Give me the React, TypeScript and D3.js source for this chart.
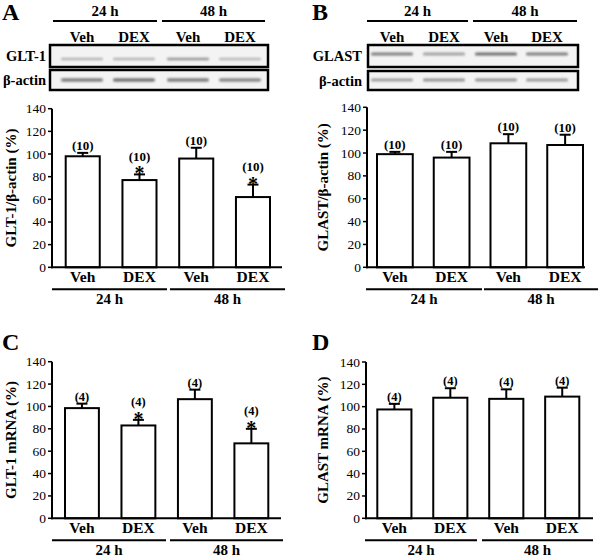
import React from "react";
import * as d3 from "d3";

// ---------- data ----------
const CATEGORIES = ["Veh", "DEX", "Veh", "DEX"];
const TIMES = ["24 h", "48 h"];
const Y_TICKS = [0, 20, 40, 60, 80, 100, 120, 140];

const GLT1_PROTEIN = [98, 77, 96, 62];
const GLT1_PROTEIN_SEM = [3, 5, 9.5, 11];
const GLAST_PROTEIN = [99, 96, 108.5, 107];
const GLAST_PROTEIN_SEM = [2, 5, 8, 9];
const GLT1_MRNA = [98.5, 83, 106.5, 67];
const GLT1_MRNA_SEM = [4, 5, 8.5, 13];
const GLAST_MRNA = [97.5, 108, 107, 109];
const GLAST_MRNA_SEM = [5, 8.5, 8.5, 8];

const N_PROTEIN = "(10)";
const N_MRNA = "(4)";
const SIG_GLT1 = [false, true, false, true];
const SIG_GLAST = [false, false, false, false];

// band intensities of the blot images (relative darkness per lane)
const GLT1_BAND = [0.3, 0.3, 0.45, 0.28];
const ACTIN_A_BAND = [0.55, 0.6, 0.55, 0.5];
const GLAST_BAND = [0.55, 0.38, 0.62, 0.55];
const ACTIN_B_BAND = [0.4, 0.45, 0.45, 0.42];

const FONT = "'Liberation Serif', 'Times New Roman', serif";

type PanelCfg = {
  letter: string;
  letterX: number;
  letterY: number;
  axisX: number;
  axisEnd: number;
  y0: number;
  yTop: number;
  barStart: number;
  barEnd: number;
  pad: number;
  title: string;
  titleX: number;
  groups: [number, number][];
  values: number[];
  sems: number[];
  n: string;
  nSize: number;
  sig: boolean[];
};

function BarPanel({ c }: { c: PanelCfg }) {
  const x = d3.scaleBand<number>().domain(d3.range(CATEGORIES.length)).range([c.barStart, c.barEnd]).paddingInner(c.pad).paddingOuter(0);
  const y = d3.scaleLinear().domain([0, 140]).range([c.y0, c.yTop]);
  const bw = x.bandwidth();
  return (
    <g fontFamily={FONT}>
      <text x={c.letterX} y={c.letterY} fontSize={24} fontWeight="bold">{c.letter}</text>
      {/* y axis */}
      <line x1={c.axisX} x2={c.axisX} y1={y(0) + 1} y2={y(140)} stroke="#000" strokeWidth={2} />
      {Y_TICKS.map((t) => (
        <g key={t}>
          <line x1={c.axisX - 4} x2={c.axisX} y1={y(t)} y2={y(t)} stroke="#000" strokeWidth={1.5} />
          <text x={c.axisX - 6} y={y(t) + 4.5} fontSize={13.5} textAnchor="end">{t}</text>
        </g>
      ))}
      <text
        transform={`translate(${c.titleX},${(y(0) + y(140)) / 2}) rotate(-90)`}
        fontSize={15}
        fontWeight="bold"
        textAnchor="middle"
      >
        {c.title}
      </text>
      {/* bars */}
      {c.values.map((v, i) => {
        const cx = (x(i) as number) + bw / 2;
        const top = y(v + c.sems[i]);
        return (
          <g key={i}>
            <line x1={cx} x2={cx} y1={y(v)} y2={top} stroke="#000" strokeWidth={2} />
            <line x1={cx - 5.5} x2={cx + 5.5} y1={top} y2={top} stroke="#000" strokeWidth={2} />
            <rect x={x(i)} y={y(v)} width={bw} height={y(0) - y(v)} fill="#fff" stroke="#000" strokeWidth={2} />
            {c.sig[i] && (
              <text x={cx} y={top + 6} fontSize={20} fontWeight="bold" textAnchor="middle">*</text>
            )}
            <text x={cx} y={c.sig[i] ? top - 13.5 : top - 3} fontSize={c.nSize} fontWeight="bold" textAnchor="middle">
              {c.n}
            </text>
          </g>
        );
      })}
      {/* x axis */}
      <line x1={c.axisX - 1} x2={c.axisEnd} y1={y(0)} y2={y(0)} stroke="#000" strokeWidth={2} />
      {CATEGORIES.map((cat, i) => (
        <text key={i} x={(x(i) as number) + bw / 2} y={y(0) + 15} fontSize={15.5} fontWeight="bold" textAnchor="middle">
          {cat}
        </text>
      ))}
      {c.groups.map(([a, b], i) => (
        <g key={i}>
          <line x1={a} x2={b} y1={y(0) + 22} y2={y(0) + 22} stroke="#000" strokeWidth={2} />
          <text x={(a + b) / 2} y={y(0) + 36.5} fontSize={15} fontWeight="bold" textAnchor="middle">
            {TIMES[i]}
          </text>
        </g>
      ))}
    </g>
  );
}

type BlotCfg = {
  groups: [number, number][];
  lanes: number[];
  boxX: [number, number];
  labelX: number;
  rows: { y0: number; y1: number; bandY: number; bandH: number; bands: number[]; label: string }[];
  laneW: number;
};

function Blot({ b }: { b: BlotCfg }) {
  return (
    <g fontFamily={FONT} fontWeight="bold">
      {b.groups.map(([a, c], i) => (
        <g key={i}>
          <text x={(a + c) / 2} y={16} fontSize={15} textAnchor="middle">{TIMES[i]}</text>
          <line x1={a} x2={c} y1={21} y2={21} stroke="#000" strokeWidth={2} />
        </g>
      ))}
      {b.lanes.map((lx, i) => (
        <text key={i} x={lx} y={42} fontSize={15} textAnchor="middle">{CATEGORIES[i]}</text>
      ))}
      {b.rows.map((r, ri) => (
        <g key={ri}>
          <text x={b.labelX} y={(r.y0 + r.y1) / 2 + 5} fontSize={14.5} textAnchor="end">{r.label}</text>
          <rect x={b.boxX[0]} y={r.y0} width={b.boxX[1] - b.boxX[0]} height={r.y1 - r.y0} fill="#f3f3f3" stroke="#000" strokeWidth={2.5} />
          {r.bands.map((v, i) => (
            <rect
              key={i}
              x={b.lanes[i] - b.laneW / 2}
              y={r.bandY - r.bandH / 2}
              width={b.laneW}
              height={r.bandH}
              rx={r.bandH / 2}
              fill="#222"
              opacity={v}
              filter="url(#blur)"
            />
          ))}
        </g>
      ))}
    </g>
  );
}

export default function App() {
  const panels: PanelCfg[] = [
    {
      letter: "A", letterX: 2, letterY: 20, axisX: 52, axisEnd: 282, y0: 267.3, yTop: 108.7,
      barStart: 65.7, barEnd: 270, pad: 0.4, title: "GLT-1/β-actin (%)", titleX: 16,
      groups: [[52, 167], [170, 285]], values: GLT1_PROTEIN, sems: GLT1_PROTEIN_SEM, n: N_PROTEIN, nSize: 13, sig: SIG_GLT1,
    },
    {
      letter: "B", letterX: 312, letterY: 20, axisX: 367, axisEnd: 585, y0: 267.3, yTop: 107.3,
      barStart: 377, barEnd: 583, pad: 0.37, title: "GLAST/β-actin (%)", titleX: 328,
      groups: [[366, 482], [484, 598]], values: GLAST_PROTEIN, sems: GLAST_PROTEIN_SEM, n: N_PROTEIN, nSize: 13, sig: SIG_GLAST,
    },
    {
      letter: "C", letterX: 2, letterY: 350, axisX: 52, axisEnd: 281, y0: 518.3, yTop: 361.7,
      barStart: 65, barEnd: 268.3, pad: 0.4, title: "GLT-1 mRNA (%)", titleX: 16,
      groups: [[52, 166], [170, 283]], values: GLT1_MRNA, sems: GLT1_MRNA_SEM, n: N_MRNA, nSize: 12.5, sig: SIG_GLT1,
    },
    {
      letter: "D", letterX: 312, letterY: 350, axisX: 366, axisEnd: 593, y0: 518.3, yTop: 362,
      barStart: 377.3, barEnd: 579.3, pad: 0.39, title: "GLAST mRNA (%)", titleX: 328,
      groups: [[365, 477], [482, 593]], values: GLAST_MRNA, sems: GLAST_MRNA_SEM, n: N_MRNA, nSize: 12.5, sig: SIG_GLAST,
    },
  ];

  const blots: BlotCfg[] = [
    {
      groups: [[53, 157], [162, 265]], lanes: [82, 134, 188, 240], boxX: [50, 268], labelX: 46, laneW: 42,
      rows: [
        { y0: 45, y1: 67, bandY: 59, bandH: 2.5, bands: GLT1_BAND, label: "GLT-1" },
        { y0: 70, y1: 90, bandY: 80, bandH: 3.5, bands: ACTIN_A_BAND, label: "β-actin" },
      ],
    },
    {
      groups: [[367, 468], [473, 577]], lanes: [392, 444, 496, 547], boxX: [368, 578], labelX: 362, laneW: 42,
      rows: [
        { y0: 45, y1: 67, bandY: 54, bandH: 3, bands: GLAST_BAND, label: "GLAST" },
        { y0: 71, y1: 90, bandY: 80, bandH: 3, bands: ACTIN_B_BAND, label: "β-actin" },
      ],
    },
  ];

  return (
    <svg width={600} height={557} style={{ position: "absolute", left: 0, top: 0, background: "#fff" }}>
      <defs>
        <filter id="blur" x="-20%" y="-150%" width="140%" height="400%">
          <feGaussianBlur stdDeviation="1.1" />
        </filter>
      </defs>
      <rect width={600} height={557} fill="#fff" />
      {blots.map((b, i) => (
        <Blot key={i} b={b} />
      ))}
      {panels.map((p, i) => (
        <BarPanel key={i} c={p} />
      ))}
    </svg>
  );
}
